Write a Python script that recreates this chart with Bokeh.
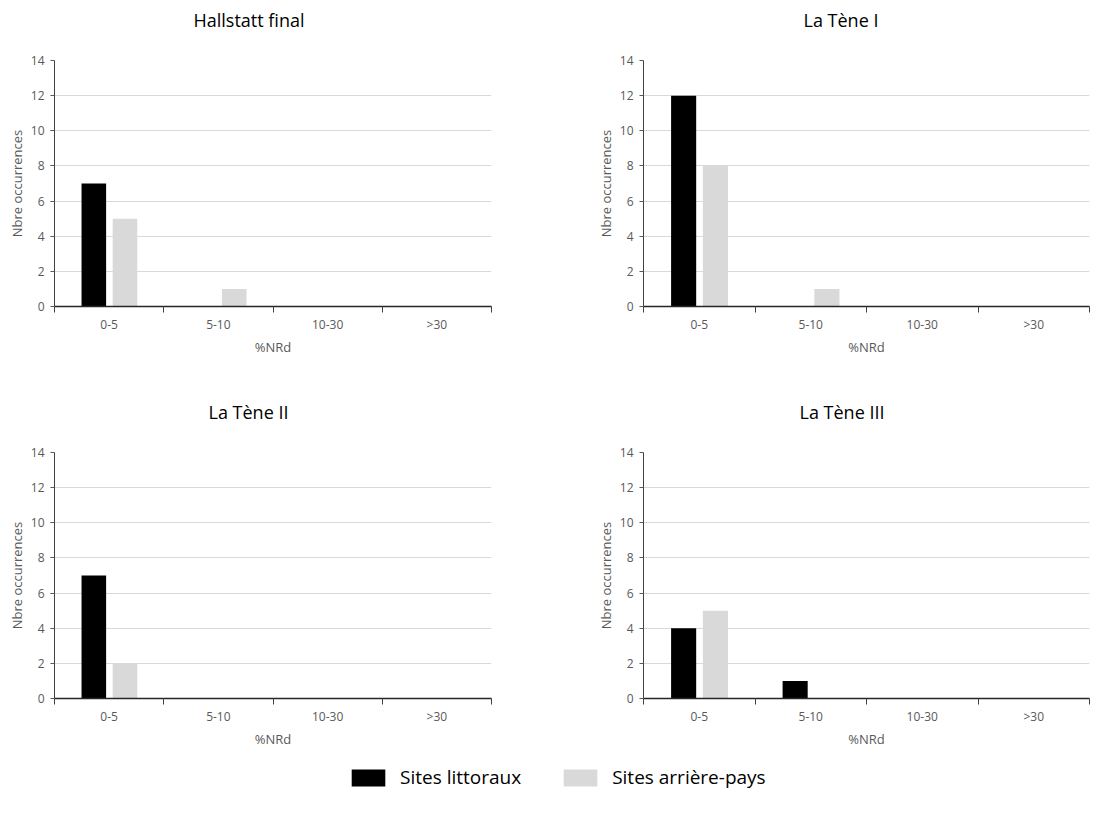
from bokeh.plotting import figure
from bokeh.models import (Range1d, FixedTicker, ColumnDataSource, Legend, LegendItem, Title)
from bokeh.layouts import column, row
from bokeh.transform import dodge
from bokeh.embed import file_html
from bokeh.resources import INLINE

# ---------------- data ----------------
categories = ["0-5", "5-10", "10-30", ">30"]
series_names = ["Sites littoraux", "Sites arrière-pays"]
panel_titles = ["Hallstatt final", "La Tène I", "La Tène II", "La Tène III"]
littoraux = [
    [7, 0, 0, 0],
    [12, 0, 0, 0],
    [7, 0, 0, 0],
    [4, 1, 0, 0],
]
arriere_pays = [
    [5, 1, 0, 0],
    [8, 1, 0, 0],
    [2, 0, 0, 0],
    [5, 0, 0, 0],
]
y_ticks = [0, 2, 4, 6, 8, 10, 12, 14]
x_label = "%NRd"
y_label = "Nbre occurrences"

# ---------------- style ----------------
FONT = "Open Sans"
BLACK = "#000000"
GREY = "#d9d9d9"
TXT = "#595959"

def make_panel(idx, frame_w, right_border, bottom_border, title_offset):
    pos = [i + 0.5 for i in range(len(categories))]
    src = ColumnDataSource(dict(x=pos, lit=littoraux[idx], arr=arriere_pays[idx]))
    p = figure(frame_width=frame_w, frame_height=246,
               x_range=Range1d(0, len(categories)), y_range=Range1d(0, 14),
               output_backend="svg", toolbar_location=None,
               min_border_left=54, min_border_right=right_border,
               min_border_top=60, min_border_bottom=bottom_border)
    p.vbar(x=dodge("x", -0.14), top="lit", width=0.225, source=src,
           fill_color=BLACK, line_color=None)
    p.vbar(x=dodge("x", 0.145), top="arr", width=0.225, source=src,
           fill_color=GREY, line_color=None)

    p.title.text = ""
    # blank spacer between frame and title, then the panel title
    p.add_layout(Title(text=" ", standoff=6, text_font=FONT, text_font_size="10px"), "above")
    p.add_layout(Title(text=panel_titles[idx], align="left", offset=title_offset,
                       vertical_align="top", standoff=10, text_font=FONT,
                       text_font_size="18px", text_font_style="normal",
                       text_color="#000000"), "above")

    p.outline_line_color = None
    p.xgrid.grid_line_color = None
    p.ygrid.grid_line_color = "#d9d9d9"
    p.ygrid.grid_line_width = 1

    xa = p.below[0]
    xa.ticker = FixedTicker(ticks=pos, minor_ticks=list(range(len(categories) + 1)))
    xa.major_label_overrides = {pv: c for pv, c in zip(pos, categories)}
    xa.major_tick_out = 0
    xa.major_tick_in = 0
    xa.minor_tick_out = 6
    xa.minor_tick_in = 0
    xa.minor_tick_line_color = "#404040"
    xa.axis_line_color = "#262626"
    xa.axis_line_width = 1.5
    xa.major_label_text_font = FONT
    xa.major_label_text_font_size = "12px"
    xa.major_label_text_color = TXT
    xa.major_label_standoff = 3
    xa.axis_label = x_label
    xa.axis_label_text_font = FONT
    xa.axis_label_text_font_size = "13px"
    xa.axis_label_text_font_style = "normal"
    xa.axis_label_text_color = TXT
    xa.axis_label_standoff = 2

    ya = p.left[0]
    ya.ticker = FixedTicker(ticks=y_ticks)
    ya.major_tick_out = 4
    ya.major_tick_in = 0
    ya.minor_tick_out = 0
    ya.minor_tick_in = 0
    ya.major_tick_line_color = "#595959"
    ya.axis_line_color = "#404040"
    ya.major_label_text_font = FONT
    ya.major_label_text_font_size = "12px"
    ya.major_label_text_color = TXT
    ya.major_label_standoff = 6
    ya.axis_label = y_label
    ya.axis_label_text_font = FONT
    ya.axis_label_text_font_size = "13px"
    ya.axis_label_text_font_style = "normal"
    ya.axis_label_text_color = TXT
    ya.axis_label_standoff = 2
    return p

p1 = make_panel(0, 437, 98, 86, 139)
p2 = make_panel(1, 446, 10, 86, 160)
p3 = make_panel(2, 437, 98, 50, 154)
p4 = make_panel(3, 446, 10, 50, 156)

# legend strip
leg = figure(width=1099, height=60, x_range=Range1d(0, 1), y_range=Range1d(10, 11),
             output_backend="svg", toolbar_location=None,
             min_border=0, min_border_left=0, min_border_right=0,
             min_border_top=0, min_border_bottom=0)
leg.axis.visible = False
leg.grid.visible = False
leg.outline_line_color = None
swatch = ColumnDataSource(dict(x=[0.5], top=[0]))
r1 = leg.vbar(x="x", top="top", width=0.1, source=swatch, fill_color=BLACK, line_color=None)
r2 = leg.vbar(x="x", top="top", width=0.1, source=swatch, fill_color=GREY, line_color=None)
legend = Legend(items=[LegendItem(label=series_names[0], renderers=[r1]),
                       LegendItem(label=series_names[1], renderers=[r2])],
                orientation="horizontal", location=(347, 20),
                glyph_width=42, glyph_height=21, label_standoff=11, spacing=38,
                padding=0, margin=0, border_line_color=None,
                background_fill_alpha=0, label_text_font=FONT,
                label_text_font_size="19px", label_text_color="#000000")
leg.add_layout(legend, "center")

layout = column(row(p1, p2), row(p3, p4), leg)

open("out.html", "w").write(file_html(layout, INLINE))
